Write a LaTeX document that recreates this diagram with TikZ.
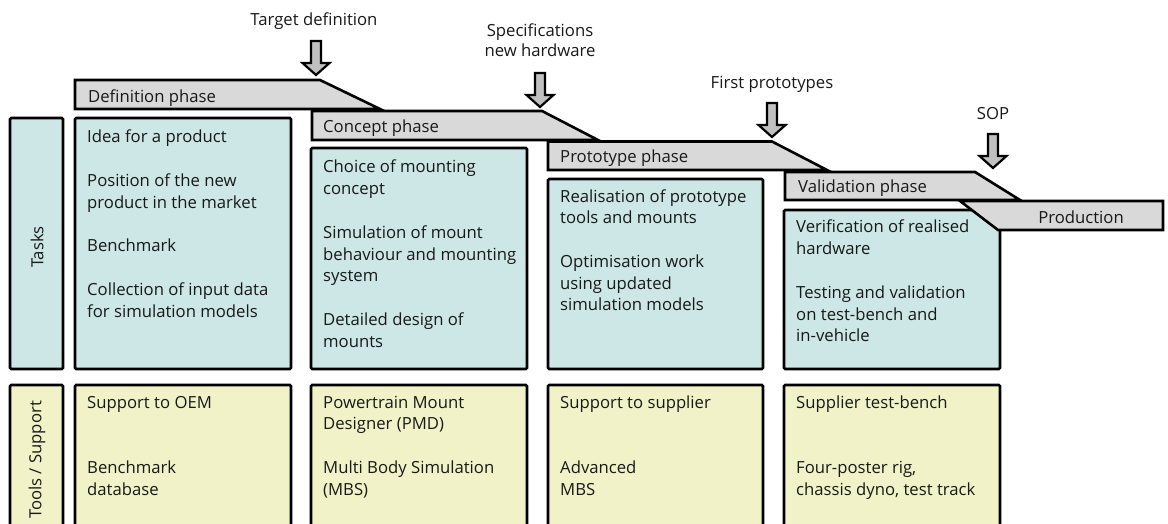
\documentclass[tikz,border=0pt]{standalone}
\usepackage{fontspec}
\setmainfont{Open Sans}
\definecolor{barfill}{RGB}{217,217,217}
\definecolor{taskfill}{RGB}{205,230,230}
\definecolor{toolfill}{RGB}{242,242,200}
\definecolor{arrfill}{RGB}{192,192,192}
\definecolor{txt}{RGB}{25,25,25}
\newcommand{\bt}[1]{\parbox[t]{205pt}{\raggedright #1}}
\newcommand{\pg}{\\[21.8pt]}
\begin{document}
\begin{tikzpicture}[x=1pt,y=-1pt,
  bar/.style={draw=black, line width=2.6pt, fill=barfill, line join=miter},
  taskbox/.style={draw=black, line width=2.6pt, fill=taskfill, rounded corners=1.2pt},
  toolbox/.style={draw=black, line width=2.6pt, fill=toolfill, rounded corners=1.2pt},
  txtn/.style={font=\fontsize{16.7}{21.8}\selectfont, text=txt, inner sep=0pt},
  bodytxt/.style={txtn, anchor=base west},
  ms/.style={draw=black, line width=2.2pt, fill=arrfill, line join=miter}]
\useasboundingbox (0,0) rectangle (1168,524);

% label boxes
\draw[taskbox] (10,118) rectangle (63,369);
\draw[toolbox] (10,385) rectangle (63,580);
\node[txtn, rotate=90] (tasks) at (37,247) {Tasks};
\node[txtn, rotate=90] (tools) at (37,460) {Tools / Support};

% task boxes
\draw[taskbox] (75,118) rectangle (291,369);
\draw[taskbox] (311,148) rectangle (527,369);
\draw[taskbox] (548,179) rectangle (763,369);
\draw[taskbox] (784,210) rectangle (1000,369);

% tool boxes
\draw[toolbox] (75,385) rectangle (291,580);
\draw[toolbox] (311,385) rectangle (527,580);
\draw[toolbox] (548,385) rectangle (763,580);
\draw[toolbox] (784,385) rectangle (1000,580);

% phase bars
\draw[bar] (75,80) -- (320,80) -- (380,109) -- (75,109) -- cycle;
\draw[bar] (312,111) -- (542,111) -- (598,140) -- (312,140) -- cycle;
\draw[bar] (548,141.5) -- (772,141.5) -- (827,170) -- (548,170) -- cycle;
\draw[bar] (785,172) -- (975,172) -- (1020,200) -- (785,200) -- cycle;
\draw[bar] (960,201) -- (1163,201) -- (1163,230) -- (998,230) -- cycle;

\node[bodytxt] (defph) at (88,103) {Definition phase};
\node[bodytxt] (conph) at (323,133) {Concept phase};
\node[bodytxt] (proph) at (560,163) {Prototype phase};
\node[bodytxt] (valph) at (798,193) {Validation phase};
\node[txtn, anchor=base] (prod) at (1081,223) {Production};

% milestone arrows
\foreach \cx/\tip in {316/75, 540/107, 772/137, 993/168}{
  \draw[ms] (\cx-5,\tip-34) -- (\cx+5,\tip-34) -- (\cx+5,\tip-12) -- (\cx+13.5,\tip-12)
    -- (\cx,\tip) -- (\cx-13.5,\tip-12) -- (\cx-5,\tip-12) -- cycle;
}
\node[txtn, anchor=base] (m1) at (314,26) {Target definition};
\node[txtn, anchor=base, align=center, font=\fontsize{16.7}{20.5}\selectfont] (m2) at (540,57) {Specifications\\new hardware};
\node[txtn, anchor=base] (m3) at (772,89) {First prototypes};
\node[txtn, anchor=base] (m4) at (993,120) {SOP};

% task texts
\node[bodytxt] (t1) at (87,143) {\bt{Idea for a product\pg Position of the new\\product in the market\pg Benchmark\pg Collection of input data\\for simulation models}};
\node[bodytxt] (t2) at (323,173) {\bt{Choice of mounting\\concept\pg Simulation of mount\\behaviour and mounting\\system\pg Detailed design of\\mounts}};
\node[bodytxt] (t3) at (560,202) {\bt{Realisation of prototype\\tools and mounts\pg Optimisation work\\using updated\\simulation models}};
\node[bodytxt] (t4) at (796,233) {\bt{Verification of realised\\hardware\pg Testing and validation\\on test-bench and\\in-vehicle}};

% tool texts
\node[bodytxt] (s1) at (87,408) {\bt{Support to OEM\\\mbox{}\pg Benchmark\\database}};
\node[bodytxt] (s2) at (323,408) {\bt{Powertrain Mount\\Designer (PMD)\pg Multi Body Simulation\\(MBS)}};
\node[bodytxt] (s3) at (560,408) {\bt{Support to supplier\\\mbox{}\pg Advanced\\MBS}};
\node[bodytxt] (s4) at (796,408) {\bt{Supplier test-bench\\\mbox{}\pg Four-poster rig,\\chassis dyno, test track}};
\end{tikzpicture}
\end{document}
